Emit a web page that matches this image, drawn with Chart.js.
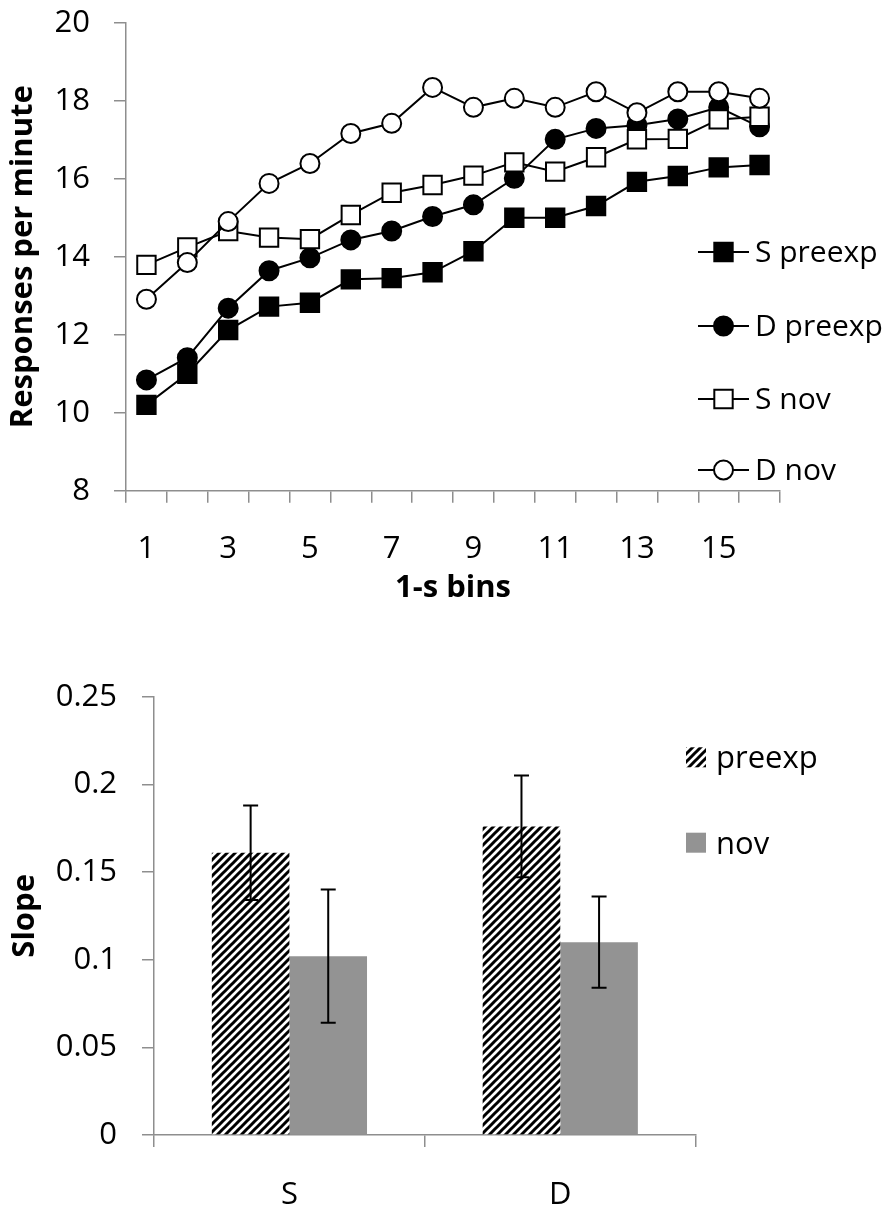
<!DOCTYPE html>
<html>
<head>
<meta charset="utf-8">
<script src="https://cdn.jsdelivr.net/npm/chart.js@4/dist/chart.umd.min.js"></script>
<style>
  html, body { margin: 0; padding: 0; background: #ffffff; }
  #wrap1 { position: absolute; left: 0; top: 0; width: 896px; height: 620px; }
  #wrap2 { position: absolute; left: 0; top: 640px; width: 896px; height: 577px; }
</style>
</head>
<body>
<div id="wrap1"><canvas id="c1" width="896" height="620"></canvas></div>
<div id="wrap2"><canvas id="c2" width="896" height="577"></canvas></div>
<script>
// ---------- Top chart data ----------
const bins = ['1','2','3','4','5','6','7','8','9','10','11','12','13','14','15','16'];
const xTickLabels = ['1','3','5','7','9','11','13','15'];
const yTicksTop = [8, 10, 12, 14, 16, 18, 20];
const seriesNames = ['S preexp', 'D preexp', 'S nov', 'D nov'];
const sPreexp = [10.20, 11.00, 12.12, 12.72, 12.82, 13.42, 13.45, 13.60, 14.14, 15.00, 15.00, 15.30, 15.92, 16.07, 16.29, 16.35];
const dPreexp = [10.84, 11.41, 12.68, 13.64, 13.97, 14.43, 14.66, 15.03, 15.33, 16.01, 17.01, 17.29, 17.37, 17.53, 17.83, 17.33];
const sNov    = [13.79, 14.24, 14.66, 14.49, 14.45, 15.07, 15.64, 15.84, 16.08, 16.42, 16.18, 16.55, 17.01, 17.02, 17.52, 17.59];
const dNov    = [12.91, 13.85, 14.90, 15.88, 16.39, 17.16, 17.42, 18.34, 17.83, 18.06, 17.83, 18.23, 17.69, 18.23, 18.23, 18.06];

// ---------- Bottom chart data ----------
const groups = ['S', 'D'];
const barNames = ['preexp', 'nov'];
const yTicksBottom = [0, 0.05, 0.1, 0.15, 0.2, 0.25];
const slopePreexp = [0.161, 0.176];
const slopeNov    = [0.102, 0.110];
const errPreexp   = [0.027, 0.029];
const errNov      = [0.038, 0.026];

// ---------- Styling ----------
const FONT = '"Open Sans", "Liberation Sans", sans-serif';
const AXIS_GRAY = '#8e8e8e';

function hatchPattern() {
  const c = document.createElement('canvas');
  c.width = 8; c.height = 8;
  const g = c.getContext('2d');
  g.fillStyle = '#ffffff';
  g.fillRect(0, 0, 8, 8);
  g.strokeStyle = '#000000';
  g.lineWidth = 3;
  g.lineCap = 'square';
  g.beginPath();
  g.moveTo(-1, 9); g.lineTo(9, -1);
  g.moveTo(-3, 3); g.lineTo(3, -3);
  g.moveTo(5, 11); g.lineTo(11, 5);
  g.stroke();
  return g.createPattern(c, 'repeat');
}
const hatch = hatchPattern();

// ---------- Top chart ----------
const markerStyles = [
  { style: 'rect',   fill: '#000000', radius: 13 },
  { style: 'circle', fill: '#000000', radius: 9.5 },
  { style: 'rect',   fill: '#ffffff', radius: 13 },
  { style: 'circle', fill: '#ffffff', radius: 9.5 }
];
const topValues = [sPreexp, dPreexp, sNov, dNov];

const lineLegendPlugin = {
  id: 'lineLegend',
  afterDraw(chart) {
    const ctx = chart.ctx;
    const ys = [252, 326, 399, 470];
    ctx.save();
    chart.data.datasets.forEach((ds, i) => {
      const y = ys[i];
      ctx.strokeStyle = '#000'; ctx.lineWidth = 2;
      ctx.beginPath(); ctx.moveTo(698, y); ctx.lineTo(749, y); ctx.stroke();
      const m = markerStyles[i];
      ctx.fillStyle = m.fill; ctx.lineWidth = 2;
      ctx.beginPath();
      if (m.style === 'rect') {
        const s = m.radius * Math.SQRT1_2;
        ctx.rect(723.5 - s, y - s, 2 * s, 2 * s);
      } else {
        ctx.arc(723.5, y, m.radius, 0, Math.PI * 2);
      }
      ctx.fill(); ctx.stroke();
      ctx.fillStyle = '#000';
      ctx.font = '30px ' + FONT;
      ctx.textAlign = 'left'; ctx.textBaseline = 'middle';
      ctx.fillText(ds.label, 755, y + 1);
    });
    ctx.restore();
  }
};

new Chart(document.getElementById('c1'), {
  type: 'line',
  data: {
    labels: bins,
    datasets: topValues.map((vals, i) => ({
      label: seriesNames[i],
      data: vals,
      order: 4 - i,
      borderColor: '#000000',
      borderWidth: 2,
      tension: 0,
      fill: false,
      pointStyle: markerStyles[i].style,
      pointRadius: markerStyles[i].radius,
      pointBackgroundColor: markerStyles[i].fill,
      pointBorderColor: '#000000',
      pointBorderWidth: 2
    }))
  },
  options: {
    responsive: false,
    devicePixelRatio: 1,
    animation: false,
    events: [],
    layout: { padding: { left: 0, right: 116, top: 22.7, bottom: 0 } },
    plugins: { legend: { display: false }, tooltip: { enabled: false } },
    scales: {
      x: {
        type: 'category',
        offset: true,
        afterFit(s) { s.height = 620 - 490.7; },
        grid: { offset: true, drawOnChartArea: false, drawTicks: true, tickLength: 12, color: AXIS_GRAY, lineWidth: 1.5 },
        border: { color: AXIS_GRAY, width: 1.5 },
        ticks: {
          autoSkip: false, maxRotation: 0, padding: 28, color: '#000',
          font: { family: FONT, size: 31 },
          callback(v) { const l = this.getLabelForValue(v); return xTickLabels.includes(l) ? l : ''; }
        },
        title: { display: true, text: '1-s bins', color: '#000', font: { family: FONT, size: 31, weight: 'bold', lineHeight: 1.2 }, padding: { top: 0, bottom: 13.4 } }
      },
      y: {
        min: 8, max: 20,
        afterFit(s) { s.width = 126; s.paddingTop = 0; s.paddingBottom = 0; },
        afterBuildTicks(s) { s.ticks = yTicksTop.map(v => ({ value: v })); },
        grid: { drawOnChartArea: false, drawTicks: true, tickLength: 12, color: AXIS_GRAY, lineWidth: 1.5 },
        border: { color: AXIS_GRAY, width: 1.5 },
        ticks: { padding: 24, color: '#000', font: { family: FONT, size: 31 } },
        title: { display: true, text: 'Responses per minute', color: '#000', font: { family: FONT, size: 31, weight: 'bold', lineHeight: 1.2 }, padding: { top: 4.4, bottom: 0 } }
      }
    }
  },
  plugins: [lineLegendPlugin]
});

// ---------- Bottom chart ----------
const barErrors = [errPreexp, errNov];

const errorBarPlugin = {
  id: 'errorBars',
  afterDatasetsDraw(chart) {
    const ctx = chart.ctx;
    const ys = chart.scales.y;
    ctx.save();
    ctx.strokeStyle = '#000'; ctx.lineWidth = 2;
    chart.data.datasets.forEach((ds, di) => {
      const meta = chart.getDatasetMeta(di);
      meta.data.forEach((bar, j) => {
        const v = ds.data[j], e = barErrors[di][j];
        const x = bar.x;
        const yt = ys.getPixelForValue(v + e), yb = ys.getPixelForValue(v - e);
        ctx.beginPath();
        ctx.moveTo(x, yt); ctx.lineTo(x, yb);
        ctx.moveTo(x - 7.5, yt); ctx.lineTo(x + 7.5, yt);
        ctx.moveTo(x - 7.5, yb); ctx.lineTo(x + 7.5, yb);
        ctx.stroke();
      });
    });
    ctx.restore();
  }
};

const barLegendPlugin = {
  id: 'barLegend',
  afterDraw(chart) {
    const ctx = chart.ctx;
    const tops = [747.3 - 640, 832.7 - 640];
    ctx.save();
    chart.data.datasets.forEach((ds, i) => {
      const t = tops[i];
      ctx.fillStyle = ds.backgroundColor;
      ctx.fillRect(686, t, 20, 20);
      ctx.fillStyle = '#000';
      ctx.font = '31px ' + FONT;
      ctx.textAlign = 'left'; ctx.textBaseline = 'middle';
      ctx.fillText(ds.label, 716, t + 12);
    });
    ctx.restore();
  }
};

new Chart(document.getElementById('c2'), {
  type: 'bar',
  data: {
    labels: groups,
    datasets: [
      { label: barNames[0], data: slopePreexp, backgroundColor: hatch, borderWidth: 0, categoryPercentage: 0.573, barPercentage: 1.0 },
      { label: barNames[1], data: slopeNov, backgroundColor: '#939393', borderWidth: 0, categoryPercentage: 0.573, barPercentage: 1.0 }
    ]
  },
  options: {
    responsive: false,
    devicePixelRatio: 1,
    animation: false,
    events: [],
    layout: { padding: { left: 0, right: 200.3, top: 56.7, bottom: 0 } },
    plugins: { legend: { display: false }, tooltip: { enabled: false } },
    scales: {
      x: {
        offset: true,
        afterFit(s) { s.height = 577 - 495; },
        grid: { offset: true, drawOnChartArea: false, drawTicks: true, tickLength: 12, color: AXIS_GRAY, lineWidth: 1.5 },
        border: { color: AXIS_GRAY, width: 1.5 },
        ticks: { padding: 29.4, color: '#000', font: { family: FONT, size: 31 } }
      },
      y: {
        min: 0, max: 0.25,
        afterFit(s) { s.width = 154; s.paddingTop = 0; s.paddingBottom = 0; },
        afterBuildTicks(s) { s.ticks = yTicksBottom.map(v => ({ value: v })); },
        grid: { drawOnChartArea: false, drawTicks: true, tickLength: 12, color: AXIS_GRAY, lineWidth: 1.5 },
        border: { color: AXIS_GRAY, width: 1.5 },
        ticks: { padding: 25, color: '#000', font: { family: FONT, size: 31 }, callback(v) { return String(parseFloat(Number(v).toFixed(2))); } },
        title: { display: true, text: 'Slope', color: '#000', font: { family: FONT, size: 31, weight: 'bold', lineHeight: 1.2 }, padding: { top: 6.4, bottom: 0 } }
      }
    }
  },
  plugins: [errorBarPlugin, barLegendPlugin]
});
</script>
</body>
</html>
